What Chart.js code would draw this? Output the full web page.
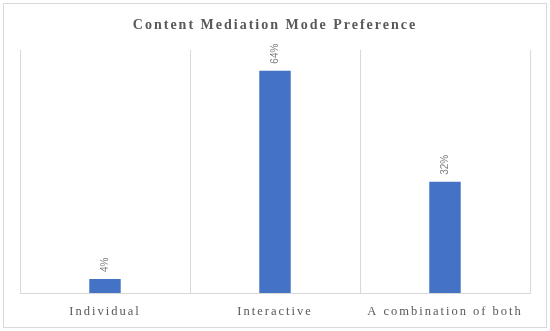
<!DOCTYPE html>
<html>
<head>
<meta charset="utf-8">
<script src="https://cdn.jsdelivr.net/npm/chart.js@4/dist/chart.umd.min.js"></script>
<style>
  html, body { margin: 0; padding: 0; background: #fff; }
  #wrap { width: 550px; height: 331px; }
</style>
</head>
<body>
<div id="wrap"><canvas id="chart" width="550" height="331"></canvas></div>
<script>
// chart data
const categories = ['Individual', 'Interactive', 'A combination of both'];
const preference = [4, 64, 32];
const yMax = 70;

// outer frame + letter spacing for the serif texts
const framePlugin = {
    id: 'frame',
    beforeDraw: function(chart) {
        const ctx = chart.ctx;
        ctx.save();
        ctx.strokeStyle = '#d9d9d9';
        ctx.lineWidth = 1;
        ctx.strokeRect(3.5, 3.5, 543, 324);
        ctx.restore();
        ctx.letterSpacing = '2px';
    }
};

// rotated value labels above the bars
const valueLabels = {
    id: 'valueLabels',
    afterDatasetsDraw: function(chart) {
        const ctx = chart.ctx;
        const meta = chart.getDatasetMeta(0);
        ctx.save();
        ctx.letterSpacing = '0px';
        ctx.font = '10px "Liberation Sans", Arial, sans-serif';
        ctx.fillStyle = '#7f7f7f';
        ctx.textAlign = 'left';
        ctx.textBaseline = 'middle';
        meta.data.forEach(function(bar, i) {
            ctx.save();
            ctx.translate(bar.x, bar.y - 7);
            ctx.rotate(-Math.PI / 2);
            ctx.fillText(preference[i] + '%', 0, 0);
            ctx.restore();
        });
        ctx.restore();
    }
};

new Chart(document.getElementById('chart'), {
    type: 'bar',
    data: {
        labels: categories,
        datasets: [{
            data: preference,
            backgroundColor: '#4472c4',
            borderWidth: 0,
            categoryPercentage: 1,
            barPercentage: 0.185,
        }]
    },
    options: {
        responsive: false,
        animation: false,
        layout: { padding: { left: 20, right: 20, bottom: 1 } },
        plugins: {
            legend: { display: false },
            tooltip: { enabled: false },
            title: {
                display: true,
                text: 'Content Mediation Mode Preference',
                color: '#595959',
                font: { family: '"Liberation Serif", serif', size: 14, weight: 'bold', lineHeight: 1.2 },
                padding: { top: 17, bottom: 16 }
            }
        },
        scales: {
            x: {
                grid: { color: '#d9d9d9', drawTicks: false, offset: true },
                border: { color: '#d9d9d9' },
                ticks: {
                    color: '#595959',
                    padding: 11,
                    maxRotation: 0,
                    autoSkip: false,
                    font: { family: '"Liberation Serif", serif', size: 12.5, lineHeight: 1.2 }
                }
            },
            y: {
                display: false,
                min: 0,
                max: yMax
            }
        }
    },
    plugins: [framePlugin, valueLabels]
});
</script>
</body>
</html>
